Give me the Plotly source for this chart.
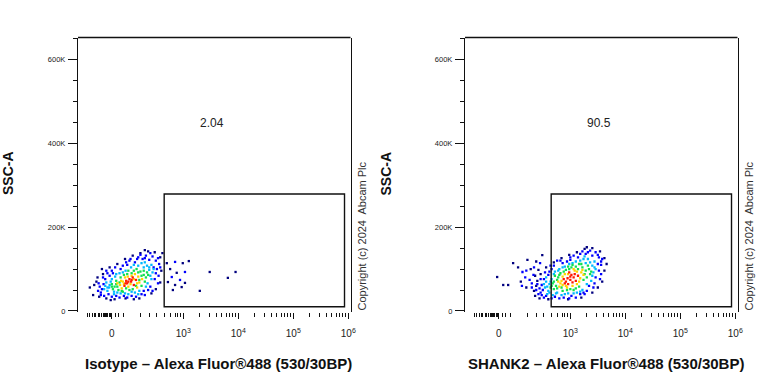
import math
import plotly.graph_objects as go

W, H = 768, 384

# ---------------- axes ----------------
# SSC-A in thousands
y_tickvals = [0, 200, 400, 600]
y_ticktext = ["0", "200K", "400K", "600K"]
y_minor = [50, 100, 150, 250, 300, 350, 450, 500, 550, 650]
y_range = [-2.4, 652]

# Logicle display units (10^k drawn at k)
x_major_vals = [1.70, 3, 4, 5, 6]
x_major_text = ["0", "10<sup>3</sup>", "10<sup>4</sup>", "10<sup>5</sup>", "10<sup>6</sup>"]
x_low_minor = [1.25, 1.30, 1.34, 1.38, 1.41, 1.45, 1.48, 1.52, 1.54, 1.56, 1.575,
               1.59, 1.61, 1.63, 1.65, 1.67, 1.77, 1.83, 1.91,
               2.23, 2.39, 2.52, 2.65, 2.76, 2.85, 2.90, 2.95]
x_range = [1.085, 6.04]

# gate (x in display units, y in K)
gate_x = [2.652, 5.931]
gate_y = [10.2, 278.9]
gate_label_pos = [3.53, 449]
gate_pct = ["2.04", "90.5"]

x_titles = ["Isotype – Alexa Fluor®488 (530/30BP)", "SHANK2 – Alexa Fluor®488 (530/30BP)"]

# ---------------- events (x display units, SSC-A K), by density level ----------------
iso_lv5 = [(1.98, 66), (2.05, 70), (2.10, 62), (2.02, 76), (1.93, 60), (2.14, 74), (2.08, 80), (1.96, 72),
           (2.00, 70), (2.06, 74), (1.95, 66)]
iso_lv4 = [(1.85, 62), (1.90, 70), (2.20, 68), (2.18, 82), (2.00, 58), (2.12, 88), (1.88, 54), (2.25, 76),
           (2.06, 84), (1.80, 66), (2.16, 56), (1.94, 80),
           (1.92, 64), (2.04, 64), (2.10, 76), (1.99, 82), (2.16, 66), (1.87, 72)]
iso_lv3 = [(1.75, 58), (1.78, 72), (1.82, 50), (2.28, 86), (2.30, 70), (2.22, 94), (2.10, 96), (1.98, 88),
           (2.02, 50), (2.24, 60), (1.70, 64), (1.86, 80), (2.34, 92), (2.15, 100), (1.90, 46), (2.08, 52),
           (1.72, 52), (2.32, 80),
           (1.80, 58), (1.84, 68), (2.20, 74), (2.24, 84), (2.06, 90), (1.92, 86), (1.96, 54), (2.14, 60),
           (2.28, 96), (1.78, 64), (2.18, 92), (1.88, 48), (2.36, 86), (2.00, 96), (1.70, 58)]
iso_lv2 = [(1.65, 56), (1.68, 70), (1.62, 48), (1.76, 82), (2.38, 98), (2.40, 84), (2.28, 104), (2.18, 108),
           (2.05, 104), (1.95, 96), (1.84, 90), (1.80, 44), (2.12, 44), (2.35, 66), (1.58, 60), (2.42, 110),
           (2.20, 48), (1.74, 40), (2.00, 40), (2.44, 92), (2.30, 116), (1.60, 68),
           (1.62, 56), (1.70, 76), (1.74, 46), (1.86, 42), (2.06, 46), (2.32, 58), (2.46, 100), (2.34, 108),
           (2.24, 114), (2.10, 110), (1.90, 92), (1.78, 88), (1.66, 62), (2.42, 76), (1.56, 52), (2.18, 40),
           (2.38, 104), (1.94, 42)]
iso_lv1 = [(1.52, 52), (1.55, 64), (1.50, 44), (1.58, 76), (1.66, 84), (1.72, 90), (1.64, 40), (1.78, 36),
           (1.92, 36), (2.06, 36), (2.24, 40), (2.40, 58), (2.48, 76), (2.50, 90), (2.46, 104), (2.50, 120),
           (2.38, 122), (2.26, 124), (2.12, 116), (1.98, 110), (1.86, 100), (1.70, 96), (1.48, 58), (1.56, 36),
           (2.36, 50), (2.52, 100), (2.44, 130), (2.32, 132), (2.18, 128), (2.02, 120), (1.90, 108), (1.62, 90),
           (1.84, 32), (2.14, 34), (2.56, 112), (2.55, 84), (1.45, 48), (2.28, 48),
           (1.46, 66), (1.54, 80), (1.60, 96), (1.76, 104), (1.96, 116), (2.22, 134), (2.40, 138), (2.54, 126),
           (2.58, 104), (2.54, 66), (2.44, 48), (2.30, 38), (1.98, 32), (1.70, 34), (1.50, 38), (2.16, 124),
           (2.30, 126), (2.04, 124),
           (2.85, 117), (2.94, 74), (2.79, 81), (3.03, 93)]
iso_lv0 = [(1.38, 62), (1.36, 38), (1.42, 70), (1.47, 34), (1.60, 30), (1.75, 28), (1.95, 30), (2.20, 30),
           (2.42, 42), (2.58, 68), (2.60, 96), (2.58, 128), (2.48, 140), (2.36, 142), (2.22, 138), (2.08, 132),
           (1.94, 124), (1.80, 112), (1.66, 104), (1.54, 88), (1.44, 80), (1.52, 100), (2.62, 138), (2.30, 145),
           (1.30, 56), (2.50, 52), (1.68, 26), (2.10, 28),
           (2.99, 114), (3.10, 119), (2.76, 100), (2.88, 91), (2.72, 69), (3.03, 67), (2.81, 50), (2.97, 57),
           (3.48, 93), (3.95, 93), (3.81, 79), (3.30, 48), (2.70, 114), (2.85, 62)]

shank_lv5 = [(2.92, 70), (3.00, 74), (3.06, 80), (2.96, 64), (3.10, 72), (3.02, 86), (2.88, 76), (3.14, 84),
             (2.98, 92), (2.95, 78), (3.04, 68), (3.08, 88), (2.90, 66), (3.00, 82)]
shank_lv4 = [(2.82, 66), (2.86, 82), (3.18, 78), (3.20, 92), (2.94, 56), (3.08, 96), (2.80, 58), (3.12, 64),
             (3.04, 60), (2.90, 88), (3.24, 86), (2.84, 72),
             (2.78, 70), (2.92, 60), (3.16, 70), (3.12, 94), (2.96, 88), (3.22, 98), (2.86, 62), (3.06, 100)]
shank_lv3 = [(2.74, 60), (2.76, 74), (2.70, 52), (3.28, 96), (3.30, 80), (3.22, 104), (3.10, 106), (2.98, 100),
             (3.00, 52), (3.16, 58), (2.68, 66), (2.82, 90), (3.34, 100), (3.16, 112), (2.86, 48), (3.06, 50),
             (2.72, 84), (3.36, 88), (2.64, 56), (2.92, 98),
             (2.70, 70), (2.78, 80), (2.66, 60), (3.26, 88), (3.32, 108), (3.20, 112), (3.02, 104), (2.88, 94),
             (2.94, 50), (3.10, 54), (2.76, 54), (3.38, 94), (3.24, 74), (2.80, 86), (3.14, 100), (3.04, 110),
             (2.96, 106), (2.84, 56)]
shank_lv2 = [(2.62, 64), (2.60, 48), (2.66, 76), (2.58, 40), (2.72, 94), (3.40, 108), (3.42, 92), (3.28, 114),
             (3.18, 120), (3.04, 114), (2.90, 106), (2.80, 100), (2.76, 44), (3.12, 44), (3.38, 72), (2.54, 56),
             (3.44, 118), (3.22, 50), (2.68, 38), (2.96, 42), (3.46, 100), (3.32, 124), (2.56, 70), (2.84, 38),
             (3.26, 130),
             (2.58, 58), (2.64, 70), (2.62, 44), (2.70, 88), (2.78, 96), (3.44, 104), (3.36, 116), (3.24, 124),
             (3.10, 118), (2.98, 112), (2.86, 104), (2.74, 42), (3.06, 42), (3.30, 64), (2.52, 64), (3.40, 84),
             (2.90, 40), (3.18, 46), (2.56, 80)]
shank_lv1 = [(2.50, 50), (2.48, 62), (2.46, 44), (2.52, 76), (2.60, 86), (2.66, 100), (2.56, 36), (2.72, 34),
             (2.88, 32), (3.02, 36), (3.18, 40), (3.34, 60), (3.46, 80), (3.52, 96), (3.50, 112), (3.52, 128),
             (3.40, 132), (3.28, 136), (3.14, 128), (3.00, 122), (2.86, 114), (2.70, 108), (2.44, 54), (2.52, 32),
             (3.30, 48), (3.56, 110), (3.46, 140), (3.36, 144), (3.22, 142), (3.06, 132), (2.94, 118), (2.62, 94),
             (2.80, 30), (3.10, 32), (3.58, 124), (3.56, 88), (2.42, 40), (3.24, 44), (2.76, 120), (3.44, 66),
             (2.33, 86), (2.45, 114), (2.13, 93), (2.30, 66), (2.18, 80),
             (2.40, 64), (2.46, 76), (2.54, 92), (2.64, 108), (2.82, 120), (3.00, 128), (3.18, 136), (3.32, 140),
             (3.50, 134), (3.56, 118), (3.54, 76), (3.42, 56), (3.26, 40), (2.98, 30), (2.66, 30), (2.48, 38),
             (2.38, 50), (2.30, 56), (2.26, 74), (2.20, 96), (2.12, 60), (2.34, 104)]
shank_lv0 = [(2.38, 60), (2.36, 36), (2.40, 72), (2.44, 30), (2.60, 28), (2.96, 28), (3.20, 32), (3.40, 44),
             (3.58, 70), (3.62, 96), (3.62, 126), (3.54, 142), (3.40, 150), (3.26, 148), (3.12, 140), (2.98, 134),
             (2.84, 126), (2.70, 116), (2.56, 104), (2.46, 88), (3.66, 112), (3.30, 152), (2.34, 48), (3.50, 56),
             (1.67, 81), (1.78, 62), (1.87, 62), (1.96, 114), (2.22, 122), (2.49, 133), (2.10, 70), (2.20, 56),
             (2.28, 100), (2.38, 118), (2.05, 104), (2.42, 98), (2.36, 84)]

density_colors = [[0.0, "#00007f"], [0.2, "#0000ff"], [0.4, "#00b8ff"],
                  [0.6, "#10e050"], [0.8, "#ffd400"], [1.0, "#ff1a00"]]

panels = [
    [iso_lv0, iso_lv1, iso_lv2, iso_lv3, iso_lv4, iso_lv5],
    [shank_lv0, shank_lv1, shank_lv2, shank_lv3, shank_lv4, shank_lv5],
]

FONT = "Liberation Sans, Arial, Helvetica, sans-serif"
fig = go.Figure()

for i, levels in enumerate(panels):
    xs, ys, cs = [], [], []
    for lv, pts in enumerate(levels):
        for (px, py) in pts:
            xs.append(px)
            ys.append(py)
            cs.append(lv)
    sfx = "" if i == 0 else "2"
    fig.add_trace(go.Scatter(
        x=xs, y=ys, mode="markers", xaxis="x" + sfx, yaxis="y" + sfx,
        marker=dict(symbol="square", size=2.3, color=cs, colorscale=density_colors,
                    cmin=0, cmax=5, line=dict(width=0)),
        hoverinfo="skip", showlegend=False))

dec_minor = [k + math.log10(m) for k in (3, 4, 5) for m in range(2, 10)]

dom_y = [1 - 312 / H, 1 - 37.5 / H]
offsets = [0, 387]
layout = dict(width=W, height=H, margin=dict(l=0, r=0, t=0, b=0, autoexpand=False),
              paper_bgcolor="white", plot_bgcolor="white", template="none",
              showlegend=False, shapes=[], annotations=[])

for i, off in enumerate(offsets):
    sfx = "" if i == 0 else "2"
    xa = "xaxis" + sfx
    ya = "yaxis" + sfx
    layout[xa] = dict(
        domain=[(78 + off) / W, (350.5 + off) / W], range=x_range, anchor="y" + sfx,
        showline=False, showgrid=False, zeroline=False,
        ticks="outside", ticklen=6, tickwidth=1, tickcolor="#111",
        tickmode="array", tickvals=x_major_vals, ticktext=x_major_text,
        tickfont=dict(family=FONT, size=10, color="#222"), ticklabelstandoff=6,
        minor=dict(tickmode="array", tickvals=x_low_minor + dec_minor, ticks="outside",
                   ticklen=3.5, tickwidth=1, tickcolor="#111", showgrid=False),
    )
    layout[ya] = dict(
        domain=dom_y, range=y_range, anchor="x" + sfx,
        showline=True, linecolor="#111", linewidth=1.3, mirror=True,
        showgrid=False, zeroline=False,
        ticks="outside", ticklen=9, tickwidth=1.2, tickcolor="#111",
        tickmode="array", tickvals=y_tickvals, ticktext=y_ticktext,
        tickfont=dict(family=FONT, size=7.5, color="#222"), ticklabelstandoff=1,
        minor=dict(tickmode="array", tickvals=y_minor, ticks="outside", ticklen=4,
                   tickwidth=1.2, tickcolor="#111", showgrid=False),
    )
    # top frame line
    layout["shapes"].append(dict(type="line", xref="x" + sfx + " domain", yref="y" + sfx + " domain",
                                 x0=0, x1=1, y0=1, y1=1, line=dict(color="#111", width=1.3)))
    # gate
    layout["shapes"].append(dict(type="rect", xref="x" + sfx, yref="y" + sfx,
                                 x0=gate_x[0], x1=gate_x[1], y0=gate_y[0], y1=gate_y[1],
                                 line=dict(color="#111", width=1.4)))
    layout["annotations"].append(dict(xref="x" + sfx, yref="y" + sfx, x=gate_label_pos[0], y=gate_label_pos[1],
                                      text=gate_pct[i], showarrow=False, xanchor="center", yanchor="middle",
                                      font=dict(family=FONT, size=12, color="#222")))
    # copyright
    layout["annotations"].append(dict(xref="paper", yref="paper", x=(361 + off) / W, y=1 - 236.5 / H,
                                      text="Copyright (c) 2024&nbsp; Abcam Plc", textangle=-90,
                                      xanchor="center", yanchor="middle",
                                      showarrow=False, font=dict(family=FONT, size=11, color="#333")))
    # axis titles
    layout["annotations"].append(dict(xref="paper", yref="paper", x=(7.5 if i == 0 else 385) / W,
                                      y=1 - 173.5 / H, text="<b>SSC-A</b>", textangle=-90, showarrow=False,
                                      xanchor="center", yanchor="middle",
                                      font=dict(family=FONT, size=14, color="#111")))
    layout["annotations"].append(dict(xref="paper", yref="paper", x=(218 if i == 0 else 606) / W,
                                      y=1 - 363 / H, text="<b>" + x_titles[i] + "</b>", showarrow=False,
                                      xanchor="center", yanchor="middle",
                                      font=dict(family=FONT, size=15, color="#111")))

fig.update_layout(**layout)
fig.write_html("out.html", config={"displayModeBar": False},
               post_script="document.body.style.margin='0px';document.body.style.overflow='hidden';")
